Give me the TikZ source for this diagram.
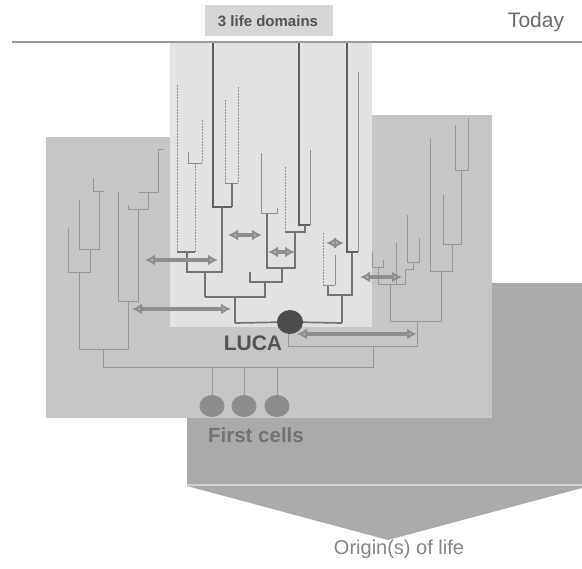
\documentclass[tikz,border=0pt]{standalone}
\usepackage{fontspec}
\setmainfont{Liberation Sans}
\usetikzlibrary{arrows.meta,shapes.geometric}
\definecolor{pleft}{HTML}{C6C6C6}
\definecolor{pcenter}{HTML}{E2E2E2}
\definecolor{pdark}{HTML}{AAAAAA}
\definecolor{plabel}{HTML}{D6D6D6}
\definecolor{ldark}{HTML}{5E5E5E}
\definecolor{lmid}{HTML}{737373}
\definecolor{lthin}{HTML}{8E8E8E}
\definecolor{lside}{HTML}{979797}
\definecolor{arrowc}{HTML}{8E8E8E}
\tikzset{
  darkline/.style={draw=ldark,line width=2.2pt},
  midline/.style={draw=lmid,line width=1.7pt},
  thinline/.style={draw=lthin,line width=0.9pt},
  dotline/.style={draw=lthin,line width=0.9pt,dash pattern=on 2pt off 1pt},
  sideline/.style={draw=lside,line width=1pt},
  hgt/.style={draw=arrowc,line width=4pt,{Latex[length=10pt,width=11pt,fill=black!28]}-{Latex[length=10pt,width=11pt,fill=black!28]}},
  cell/.style={ellipse,fill=black!45,minimum width=25pt,minimum height=22pt,inner sep=0pt},
  lbl/.style={inner sep=0pt,anchor=center}
}
\begin{document}
\begin{tikzpicture}[x=1pt,y=-1pt]
\useasboundingbox (0,0) rectangle (582,569);
\fill[white] (0,0) rectangle (582,569);
% background panels
\fill[pdark] (187,283) rectangle (582,485);
\fill[pdark] (187,486) -- (582,486) -- (582,488) -- (388,540) -- cycle;
\draw[black!18,line width=1.2pt] (187,485) -- (582,485);
\fill[pleft] (46,137) rectangle (492,418);
\fill[pleft] (372,115) rectangle (492,418);
\fill[pcenter] (170,42) rectangle (372,327);
\fill[plabel] (205,5) rectangle (333,36);
% top line
\draw[black!40,line width=2pt] (12,42) -- (582,42);
% labels
\node[lbl,text=black!68,font=\bfseries\fontsize{15}{15}\selectfont] (domains) at (268,21) {3 life domains};
\node[lbl,text=black!58,font=\fontsize{21}{21}\selectfont] (today) at (536,22) {Today};
\node[lbl,text=black!68,font=\bfseries\fontsize{21}{21}\selectfont] (lucatext) at (253,343) {LUCA};
\node[lbl,text=black!55,font=\bfseries\fontsize{20.5}{20.5}\selectfont] (firstcells) at (256,435) {First cells};
\node[lbl,text=black!48,font=\fontsize{20}{20}\selectfont] (origin) at (399,549) {Origin(s) of life};

% ---- left panel tree
\draw[sideline] (68,228) -- (68,273) -- (90,273) -- (90,250);
\draw[sideline] (79,200) -- (79,250) -- (99,250) -- (99,192);
\draw[sideline] (93,178) -- (93,192) -- (104,192);
\draw[sideline] (79,273) -- (79,350) -- (128,350);
\draw[sideline] (118,192) -- (118,302) -- (138,302) -- (138,210);
\draw[sideline] (128,205) -- (128,210) -- (148,210) -- (148,193);
\draw[sideline] (139,193) -- (158,193) -- (158,150) -- (164,150);
\draw[sideline] (128,302) -- (128,350);
\draw[sideline] (103,350) -- (103,368);

% ---- right panel tree
\draw[sideline] (455,125) -- (455,171) -- (468,171) -- (468,118);
\draw[sideline] (461,171) -- (461,245) -- (443,245) -- (443,195);
\draw[sideline] (452,245) -- (452,272) -- (430,272) -- (430,138);
\draw[sideline] (441,272) -- (441,322) -- (390,322) -- (390,285);
\draw[sideline] (372,252) -- (372,268) -- (383,268) -- (383,260);
\draw[sideline] (378,268) -- (378,285) -- (405,285) -- (405,270);
\draw[sideline] (396,243) -- (396,285);
\draw[sideline] (407,215) -- (407,263) -- (419,263) -- (419,238);
\draw[sideline] (413,263) -- (413,270) -- (405,270);
\draw[sideline] (417,322) -- (417,347) -- (288,347) -- (288,330);
\draw[sideline] (373,347) -- (373,368);

% ---- center tree, left clade
\draw[darkline] (213,43) -- (213,207) -- (232,207);
\draw[dotline] (225,100) -- (225,183);
\draw[dotline] (238,87) -- (238,183);
\draw[thinline] (225,183) -- (238,183);
\draw[midline] (232,183) -- (232,207);
\draw[midline] (222,207) -- (222,272) -- (187,272) -- (187,252);
\draw[dotline] (177,85) -- (177,252);
\draw[dotline] (202,120) -- (202,163);
\draw[thinline] (188,152) -- (188,163) -- (202,163);
\draw[dotline] (195,163) -- (195,252);
\draw[midline] (177,252) -- (195,252);
\draw[midline] (205,272) -- (205,297);
% center tree, middle clade
\draw[darkline] (299,43) -- (299,225) -- (310,225);
\draw[thinline] (310,150) -- (310,225);
\draw[midline] (305,225) -- (305,232) -- (285,232);
\draw[dotline] (285,167) -- (285,232);
\draw[midline] (295,232) -- (295,268) -- (267,268) -- (267,213);
\draw[thinline] (261,153) -- (261,213) -- (277,213) -- (277,208);
\draw[midline] (282,268) -- (282,282) -- (250,282) -- (250,272);
\draw[midline] (265,282) -- (265,297) -- (205,297);
\draw[midline] (235,297) -- (235,323);
% center tree, right clade
\draw[darkline] (347,43) -- (347,252) -- (358,252);
\draw[thinline] (358,72) -- (358,252);
\draw[midline] (352,252) -- (352,295) -- (328,295) -- (328,285);
\draw[dotline] (323,233) -- (323,285);
\draw[thinline] (335,255) -- (335,285);
\draw[thinline] (323,285) -- (335,285);
\draw[midline] (342,295) -- (342,323);

% bottom root line
\draw[sideline] (103,368) -- (373,368);

% LUCA
\coordinate (lucaL) at (235,323);
\coordinate (lucaR) at (342,323);
\node[ellipse,fill=black!70,minimum width=26pt,minimum height=24pt,inner sep=0pt] (luca) at (290,322) {};
\draw[midline] (lucaL) -- (luca);
\draw[midline] (luca) -- (lucaR);

% first cells
\node[cell] (c1) at (212,406) {};
\node[cell] (c2) at (244,406) {};
\node[cell] (c3) at (277,406) {};
\coordinate (r1) at (212,368);
\coordinate (r2) at (244,368);
\coordinate (r3) at (277,368);
\draw[sideline] (r1) -- (c1);
\draw[sideline] (r2) -- (c2);
\draw[sideline] (r3) -- (c3);

% transfer arrows
\draw[hgt] (145,260) -- (218,260);
\draw[hgt] (132,309) -- (231,309);
\draw[hgt] (228,235) -- (262,235);
\draw[hgt] (268,252) -- (295,252);
\draw[hgt] (326,243) -- (344,243);
\draw[hgt] (360,277) -- (402,277);
\draw[hgt] (297,334) -- (417,334);
\end{tikzpicture}
\end{document}
